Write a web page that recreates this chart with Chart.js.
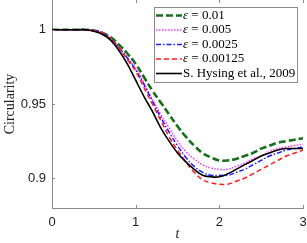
<!DOCTYPE html>
<html>
<head>
<meta charset="utf-8">
<script src="https://cdn.jsdelivr.net/npm/chart.js@4.4.0/dist/chart.umd.min.js"></script>
<style>
  html, body { margin: 0; padding: 0; background: #fff; }
  #wrap { width: 307px; height: 243px; }
</style>
</head>
<body>
<div id="wrap"><canvas id="c"></canvas></div>
<script>
// time samples
var t = [0, 0.1, 0.2, 0.3, 0.4, 0.5, 0.6, 0.7, 0.8, 0.9, 1.0, 1.1, 1.2, 1.3, 1.4, 1.5,
         1.6, 1.7, 1.8, 1.9, 2.0, 2.1, 2.2, 2.3, 2.4, 2.5, 2.6, 2.7, 2.8, 2.9, 3.0];

var eps01 = [1, 1, 1, 1, 1, 0.9995, 0.998, 0.995, 0.990, 0.984, 0.977, 0.968, 0.959, 0.951, 0.943, 0.935,
             0.928, 0.922, 0.917, 0.914, 0.912, 0.912, 0.913, 0.915, 0.917, 0.920, 0.922, 0.924, 0.925, 0.926, 0.927];
var eps005 = [1, 1, 1, 1, 1, 0.9995, 0.998, 0.994, 0.988, 0.981, 0.974, 0.964, 0.953, 0.943, 0.934, 0.925,
              0.918, 0.913, 0.909, 0.907, 0.906, 0.906, 0.908, 0.910, 0.913, 0.915, 0.918, 0.920, 0.921, 0.922, 0.923];
var eps0025 = [1, 1, 1, 1, 1, 0.9995, 0.998, 0.994, 0.988, 0.981, 0.973, 0.963, 0.952, 0.941, 0.931, 0.922,
               0.914, 0.908, 0.904, 0.902, 0.902, 0.902, 0.904, 0.906, 0.909, 0.912, 0.915, 0.917, 0.919, 0.920, 0.921];
var eps00125 = [1, 1, 1, 1, 1, 0.9995, 0.998, 0.994, 0.988, 0.980, 0.972, 0.961, 0.950, 0.939, 0.928, 0.919,
                0.911, 0.904, 0.899, 0.897, 0.896, 0.896, 0.898, 0.900, 0.903, 0.906, 0.909, 0.912, 0.915, 0.917, 0.919];
var hysing = [1, 1, 1, 1, 1, 0.999, 0.997, 0.993, 0.986, 0.977, 0.966, 0.955, 0.945, 0.934, 0.925, 0.917,
              0.911, 0.906, 0.902, 0.901, 0.901, 0.903, 0.906, 0.909, 0.912, 0.915, 0.917, 0.919, 0.920, 0.920, 0.920];

var labels = ["\u03b5 = 0.01", "\u03b5 = 0.005", "\u03b5 = 0.0025", "\u03b5 = 0.00125", "S. Hysing et al., 2009"];
var xTicks = [0, 1, 2, 3];
var yTicks = [0.9, 0.95, 1];

function pts(ys) {
  return t.map(function (x, i) { return { x: x, y: ys[i] }; });
}

var styles = [
  { color: "#17701a", width: 2.6, dash: [7, 3] },
  { color: "#ff33ff", width: 1.5, dash: [1.5, 1.5] },
  { color: "#1a1aff", width: 1.5, dash: [5, 2, 1.5, 2] },
  { color: "#ff1a1a", width: 1.5, dash: [5, 3] },
  { color: "#000000", width: 1.6, dash: [] }
];
var series = [eps01, eps005, eps0025, eps00125, hysing];

var datasets = series.map(function (s, i) {
  return {
    label: labels[i],
    data: pts(s),
    borderColor: styles[i].color,
    borderWidth: styles[i].width,
    borderDash: styles[i].dash,
    pointRadius: 0,
    tension: 0.4,
    fill: false
  };
}).reverse();

// inward ticks like matlab
var inTicks = {
  id: "inTicks",
  afterDraw: function (chart) {
    var c = chart.ctx, a = chart.chartArea;
    var xs = chart.scales.x, ys = chart.scales.y;
    c.save();
    c.strokeStyle = "#8a8a8a";
    c.lineWidth = 1;
    c.beginPath();
    xTicks.forEach(function (v) {
      var px = Math.round(xs.getPixelForValue(v)) + 0.5;
      c.moveTo(px, a.bottom); c.lineTo(px, a.bottom - 3);
      c.moveTo(px, a.top); c.lineTo(px, a.top + 3);
    });
    yTicks.forEach(function (v) {
      var py = Math.round(ys.getPixelForValue(v)) + 0.5;
      c.moveTo(a.left, py); c.lineTo(a.left + 3, py);
    });
    c.stroke();
    c.restore();
  }
};

// legend box inside the plot
var boxLegend = {
  id: "boxLegend",
  afterDraw: function (chart) {
    var c = chart.ctx;
    var x0 = 154.5, y0 = 7.5, w = 143, h = 75;
    c.save();
    c.fillStyle = "#fff";
    c.fillRect(x0, y0, w, h);
    c.strokeStyle = "#8a8a8a";
    c.lineWidth = 1;
    c.strokeRect(x0, y0, w, h);
    for (var i = 0; i < labels.length; i++) {
      var y = 15.5 + i * 14.5;
      c.beginPath();
      c.strokeStyle = styles[i].color;
      c.lineWidth = styles[i].width;
      c.setLineDash(styles[i].dash);
      c.moveTo(156, y); c.lineTo(182, y);
      c.stroke();
      c.setLineDash([]);
      c.fillStyle = "#000";
      c.textBaseline = "middle";
      var tx = 183;
      if (i < 4) {
        c.font = "italic 13px 'Liberation Serif'";
        c.fillText("\u03b5", tx, y);
        tx += c.measureText("\u03b5").width;
        c.font = "13px 'Liberation Serif'";
        c.fillText(labels[i].slice(1), tx, y);
      } else {
        c.font = "13px 'Liberation Serif'";
        c.fillText(labels[i], 183, y);
      }
    }
    c.restore();
  }
};

new Chart(document.getElementById("c"), {
  type: "line",
  data: { datasets: datasets },
  options: {
    responsive: true,
    maintainAspectRatio: false,
    animation: false,
    layout: { padding: { top: 0, right: 4, left: 0, bottom: 0 } },
    plugins: { legend: { display: false }, tooltip: { enabled: false } },
    scales: {
      x: {
        type: "linear",
        min: 0, max: 3,
        afterBuildTicks: function (s) { s.ticks = xTicks.map(function (v) { return { value: v }; }); },
        afterFit: function (s) { s.height = 35; s.paddingLeft = 0; s.paddingRight = 0; },
        grid: { display: false, drawTicks: false },
        border: { display: true, color: "#8a8a8a", width: 1 },
        ticks: { color: "#222", padding: 7, font: { family: "'Liberation Sans'", size: 13 } },
        title: { display: true, text: "t", color: "#222", padding: { top: 3, bottom: 0 },
                 font: { family: "'Liberation Serif'", style: "italic", size: 14 } }
      },
      y: {
        min: 0.88, max: 1.02,
        afterBuildTicks: function (s) { s.ticks = yTicks.map(function (v) { return { value: v }; }); },
        afterFit: function (s) { s.width = 52; s.paddingTop = 0; s.paddingBottom = 0; },
        grid: { display: false, drawTicks: false },
        border: { display: true, color: "#8a8a8a", width: 1 },
        ticks: { color: "#222", padding: 6, font: { family: "'Liberation Sans'", size: 13 },
                 callback: function (v) { return v === 1 ? "1" : String(v); } },
        title: { display: true, text: "Circularity", color: "#222", padding: { top: 2, bottom: 2 },
                 font: { family: "'Liberation Serif'", size: 14 } }
      }
    }
  },
  plugins: [inTicks, boxLegend]
});
</script>
</body>
</html>
